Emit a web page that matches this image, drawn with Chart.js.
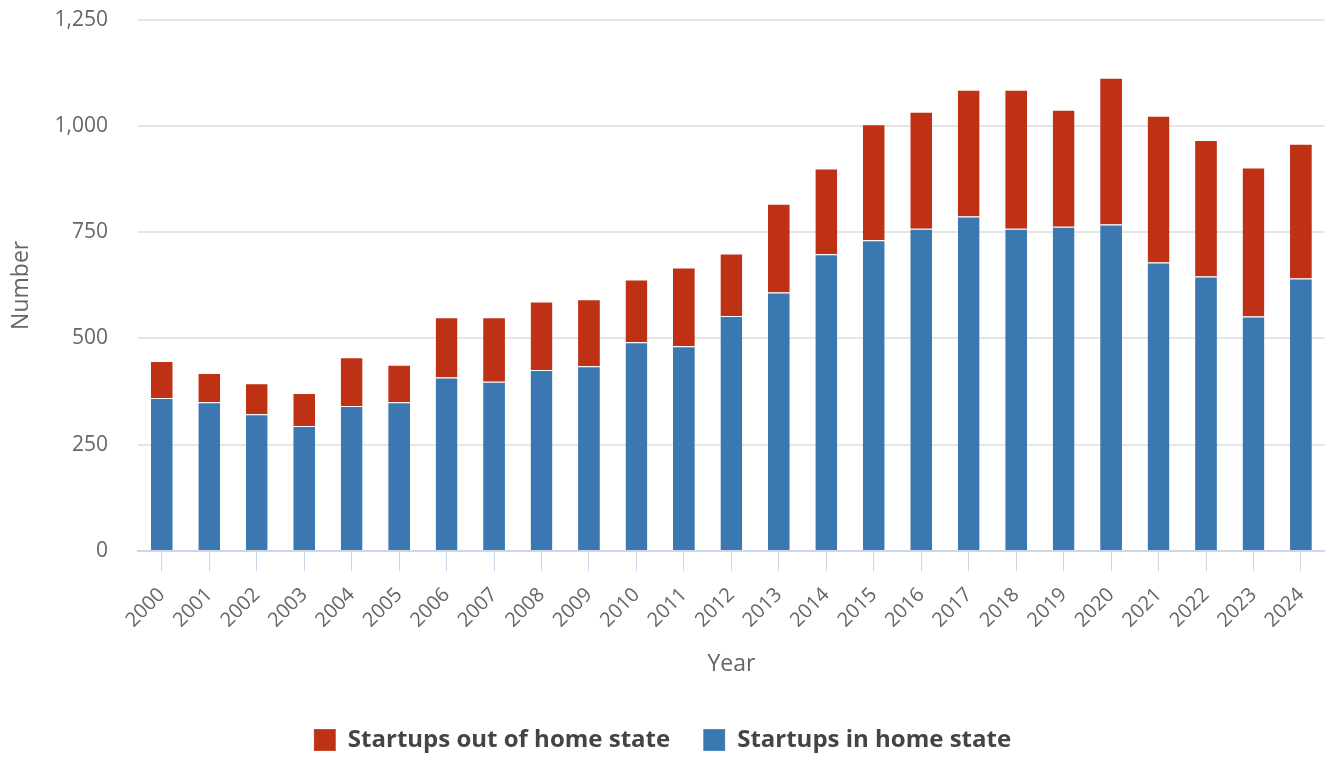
<!DOCTYPE html>
<html>
<head>
<meta charset="utf-8">
<script src="https://cdn.jsdelivr.net/npm/chart.js@4"></script>
<style>
  html, body { margin: 0; padding: 0; background: #fff; }
  #wrap { width: 1330px; height: 757px; }
</style>
</head>
<body>
<div id="wrap"><canvas id="mycanvas"></canvas></div>
<script>
var years = ["2000","2001","2002","2003","2004","2005","2006","2007","2008","2009","2010","2011","2012",
             "2013","2014","2015","2016","2017","2018","2019","2020","2021","2022","2023","2024"];
var inHomeState = [360,350,322,294,341,350,408,398,426,435,491,482,553,608,698,731,758,787,758,763,768,679,646,552,641];
var outOfHomeState = [87,69,73,78,115,88,142,152,161,157,148,185,147,209,202,273,275,298,327,275,345,345,321,350,317];
var yTicks = [0, 250, 500, 750, 1000, 1250];

var font = "'Open Sans', 'Noto Sans', sans-serif";

var chartdata = {
  labels: years,
  datasets: [
    {
      label: "Startups in home state",
      backgroundColor: "#3b78b1",
      borderColor: "#ffffff",
      borderWidth: { top: 1, left: 0, right: 0, bottom: 0 },
      data: inHomeState
    },
    {
      label: "Startups out of home state",
      backgroundColor: "#be3115",
      borderColor: "#ffffff",
      borderWidth: { top: 1, left: 0, right: 0, bottom: 0 },
      data: outOfHomeState
    }
  ]
};

var ctx = document.getElementById("mycanvas");

var barGraph = new Chart(ctx, {
  type: "bar",
  data: chartdata,
  options: {
    responsive: true,
    maintainAspectRatio: false,
    animation: false,
    barPercentage: 0.46,
    categoryPercentage: 1,
    layout: { padding: { top: 0, right: 5, left: 0, bottom: -5 } },
    plugins: {
      tooltip: { enabled: false },
      legend: {
        position: "bottom",
        reverse: true,
        labels: {
          boxWidth: 22,
          boxHeight: 22,
          padding: 33,
          color: "#444",
          font: { family: font, size: 24, weight: "bold" }
        }
      }
    },
    scales: {
      x: {
        stacked: true,
        grid: {
          display: true,
          drawOnChartArea: false,
          offset: false,
          color: "#ccd6eb",
          tickLength: 20
        },
        border: { color: "#ccd6eb", width: 2 },
        ticks: {
          color: "#666",
          minRotation: 45,
          maxRotation: 45,
          padding: 12,
          font: { family: font, size: 20 }
        },
        title: {
          display: true,
          text: "Year",
          color: "#666",
          padding: { top: 6, bottom: 17 },
          font: { family: font, size: 23 }
        }
      },
      y: {
        stacked: true,
        min: 0,
        max: 1250,
        afterBuildTicks: function(axis) {
          axis.ticks = yTicks.map(function(v) { return { value: v }; });
        },
        grid: { color: "#e6e6e6", lineWidth: 2, drawTicks: true, tickLength: 23, tickColor: "rgba(0,0,0,0)" },
        border: { display: false },
        ticks: {
          color: "#666",
          padding: 7,
          font: { family: font, size: 21 },
          callback: function(v) { return v.toLocaleString("en-US"); }
        },
        title: {
          display: true,
          text: "Number",
          color: "#666",
          padding: { top: 8, bottom: 12 },
          font: { family: font, size: 23 }
        }
      }
    }
  }
});
</script>
</body>
</html>
